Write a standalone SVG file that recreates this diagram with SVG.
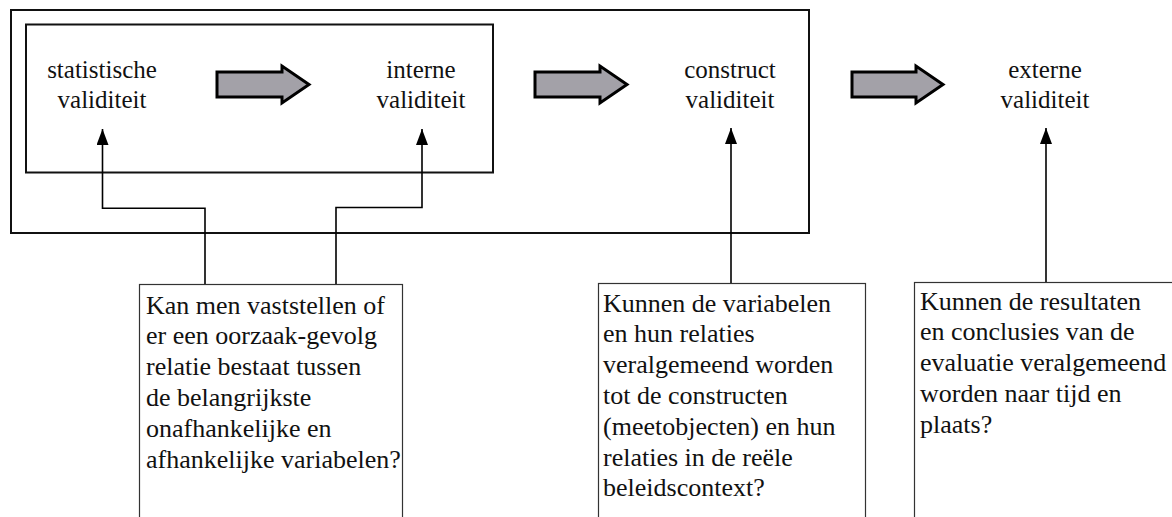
<svg xmlns="http://www.w3.org/2000/svg" width="1172" height="517" viewBox="0 0 1172 517">
<defs>
<style>
.frame{fill:none;stroke:#111;stroke-width:2}
.box{fill:#fff;stroke:#333;stroke-width:1.2}
.blk{fill:#a3a1a8;stroke:#000;stroke-width:3;stroke-linejoin:miter}
.lbl{font-family:'Liberation Serif','Times New Roman',serif;font-size:25px;fill:#111;text-anchor:middle}
.txt{font-family:'Liberation Serif','Times New Roman',serif;font-size:26px;fill:#111}
.con{fill:none;stroke:#000;stroke-width:1.6}
</style>
<marker id="ah" viewBox="0 0 16 12" refX="16" refY="6" markerWidth="16" markerHeight="12" markerUnits="userSpaceOnUse" orient="auto">
<path d="M0,0 L16,6 L0,12 Z" fill="#000"/>
</marker>
</defs>

<g id="outer-frame"><rect class="frame" x="11" y="10" width="798" height="223"/></g>
<g id="inner-frame"><rect class="frame" x="26" y="24.5" width="467" height="148"/></g>

<g id="statistische"><text class="lbl" x="102" y="78">statistische</text><text class="lbl" x="102" y="108">validiteit</text></g>
<g id="interne"><text class="lbl" x="421" y="78">interne</text><text class="lbl" x="421" y="108">validiteit</text></g>
<g id="construct"><text class="lbl" x="730" y="78">construct</text><text class="lbl" x="730" y="108">validiteit</text></g>
<g id="externe"><text class="lbl" x="1045" y="78">externe</text><text class="lbl" x="1045" y="108">validiteit</text></g>

<g id="block-arrows">
<path class="blk" d="M217,72 L282,72 L282,66 L309,84.5 L282,103 L282,97 L217,97 Z"/>
<path class="blk" d="M535,72 L600,72 L600,66 L627,84.5 L600,103 L600,97 L535,97 Z"/>
<path class="blk" d="M852,72 L916,72 L916,66 L943,84.5 L916,103 L916,97 L852,97 Z"/>
</g>

<g id="connectors">
<path class="con" d="M205,284.5 V208.3 H102.5 V129" marker-end="url(#ah)"/>
<path class="con" d="M336,284.5 V207.5 H422 V129" marker-end="url(#ah)"/>
<path class="con" d="M731,283.5 V128" marker-end="url(#ah)"/>
<path class="con" d="M1046,282.5 V128" marker-end="url(#ah)"/>
</g>

<g id="box-interne">
<rect class="box" x="139.5" y="284.5" width="263" height="250"/>
<text class="txt" x="146" y="313.5">Kan men vaststellen of</text>
<text class="txt" x="146" y="344.3">er een oorzaak-gevolg</text>
<text class="txt" x="146" y="375.1">relatie bestaat tussen</text>
<text class="txt" x="146" y="405.9">de belangrijkste</text>
<text class="txt" x="146" y="436.7">onafhankelijke en</text>
<text class="txt" x="146" y="467.5">afhankelijke variabelen?</text>
</g>

<g id="box-construct">
<rect class="box" x="598.5" y="283.5" width="267" height="250"/>
<text class="txt" x="603" y="311.5">Kunnen de variabelen</text>
<text class="txt" x="603" y="342.3">en hun relaties</text>
<text class="txt" x="603" y="373.1">veralgemeend worden</text>
<text class="txt" x="603" y="403.9">tot de constructen</text>
<text class="txt" x="603" y="434.7">(meetobjecten) en hun</text>
<text class="txt" x="603" y="465.5">relaties in de reële</text>
<text class="txt" x="603" y="496.3">beleidscontext?</text>
</g>

<g id="box-externe">
<rect class="box" x="914.5" y="282.5" width="270" height="250"/>
<text class="txt" x="920" y="309.5">Kunnen de resultaten</text>
<text class="txt" x="920" y="340.3">en conclusies van de</text>
<text class="txt" x="920" y="371.1">evaluatie veralgemeend</text>
<text class="txt" x="920" y="401.9">worden naar tijd en</text>
<text class="txt" x="920" y="432.7">plaats?</text>
</g>
</svg>
